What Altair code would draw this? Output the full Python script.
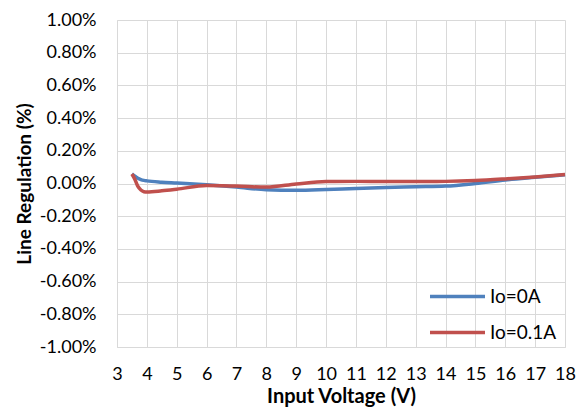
import altair as alt
import pandas as pd

voltage = [3.5, 3.6, 3.7, 3.8, 3.9, 4, 4.5, 5, 6, 7, 8, 9, 10, 11, 12, 13, 14, 15, 16, 17, 18]
io_0a = [0.058, 0.045, 0.032, 0.024, 0.019, 0.016, 0.008, 0.003, -0.008, -0.022, -0.038, -0.042,
         -0.037, -0.030, -0.024, -0.020, -0.016, 0.000, 0.022, 0.038, 0.053]
io_01a = [0.058, 0.025, -0.018, -0.040, -0.050, -0.052, -0.045, -0.035, -0.012, -0.016, -0.022,
          -0.003, 0.012, 0.013, 0.013, 0.012, 0.013, 0.018, 0.028, 0.040, 0.055]
series_names = ["Io=0A", "Io=0.1A"]
colors = ["#4F81BD", "#C0504D"]
x_ticks = list(range(3, 19))
y_ticks = [-1.0, -0.8, -0.6, -0.4, -0.2, 0.0, 0.2, 0.4, 0.6, 0.8, 1.0]

rows = []
for name, vals in zip(series_names, [io_0a, io_01a]):
    for v, r in zip(voltage, vals):
        rows.append({"V": v, "reg": r, "series": name})
df = pd.DataFrame(rows)

FONT = "Lato"

chart = alt.Chart(df).mark_line(strokeWidth=3.5, interpolate="monotone").encode(
    x=alt.X("V:Q", scale=alt.Scale(domain=[3, 18], nice=False),
            axis=alt.Axis(values=x_ticks, title="Input Voltage (V)", labelPadding=18,
                          labelFlush=False, labelOverlap=False,
                          titlePadding=3, ticks=False, format="d")),
    y=alt.Y("reg:Q", scale=alt.Scale(domain=[-1, 1], nice=False),
            axis=alt.Axis(values=y_ticks, title="Line Regulation (%)", ticks=False,
                          titleFontSize=19,
                          labelPadding=21, titlePadding=5, labelFlush=False, labelOverlap=False,
                          labelExpr="(datum.value < -0.0001 ? '-' : '') + format(abs(datum.value), '.2f') + '%'")),
    color=alt.Color("series:N", sort=series_names,
                    scale=alt.Scale(domain=series_names, range=colors),
                    legend=alt.Legend(title=None, orient="none", legendX=311, legendY=267,
                                      symbolType="stroke", symbolSize=3025, symbolStrokeWidth=3.5,
                                      clipHeight=19, rowPadding=16,
                                      labelFontSize=19, labelFont=FONT, labelColor="#000000",
                                      labelOffset=3)),
).properties(
    width=448, height=327,
    autosize=alt.AutoSizeParams(type="none"),
    padding={"left": 109, "top": 12, "right": 11, "bottom": 62},
).configure_axis(
    gridColor="#D9D9D9", gridWidth=1, domainColor="#D9D9D9", domainWidth=1,
    labelFont=FONT, labelFontSize=18, labelColor="#000000",
    titleFont=FONT, titleFontSize=20, titleFontWeight="bold", titleColor="#000000",
).configure_view(stroke=None)

chart.save("out.html", embed_options={"renderer": "svg", "actions": False})
